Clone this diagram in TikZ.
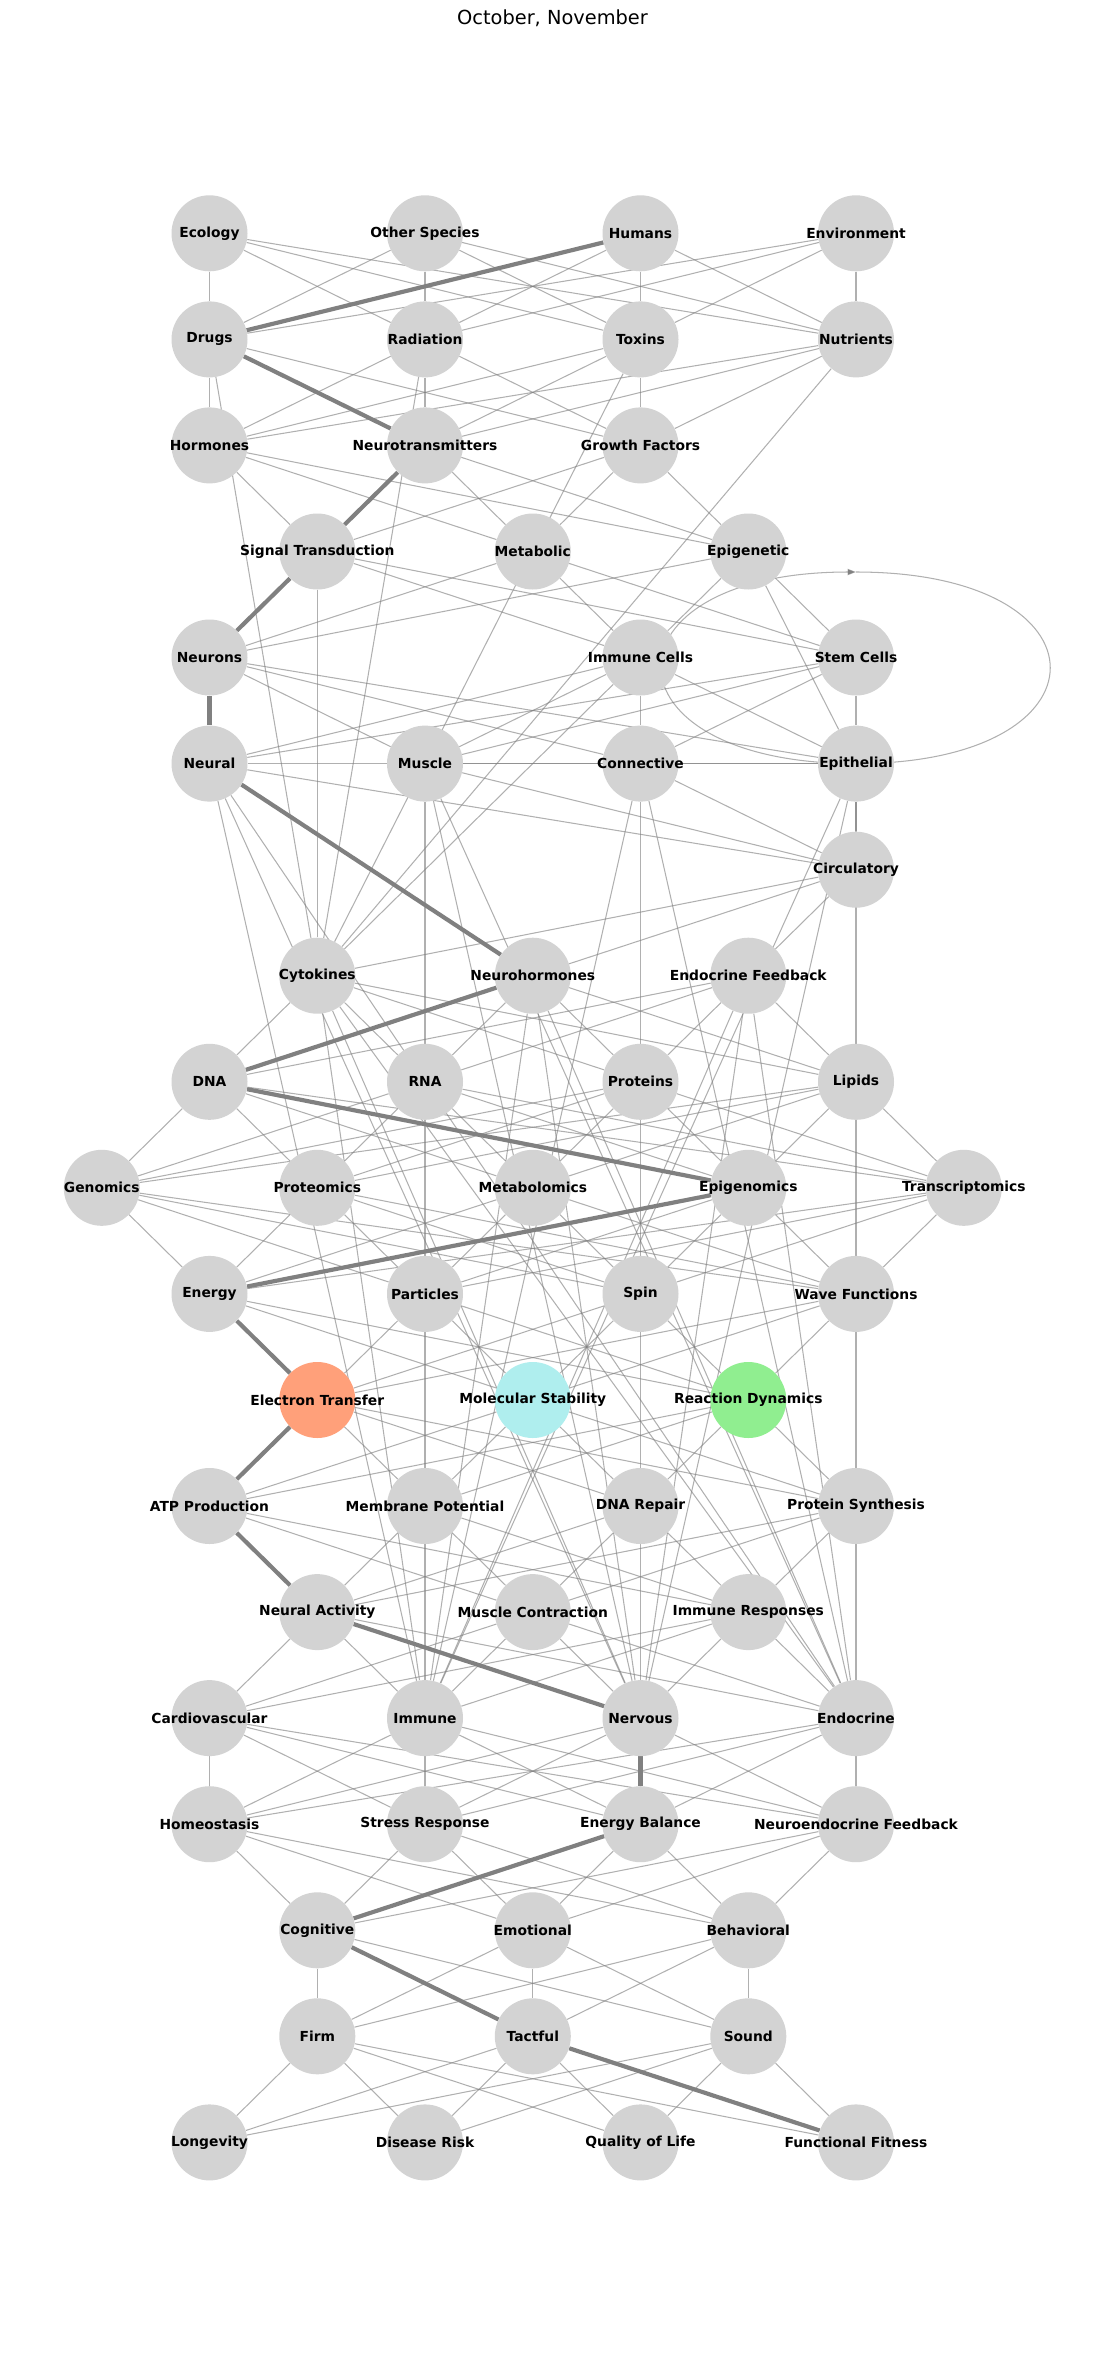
\documentclass[tikz,border=0pt]{standalone}
\usepackage{fontspec}
\setmainfont{DejaVu Sans}
\usetikzlibrary{arrows.meta}
\pgfdeclarelayer{canvas}
\pgfdeclarelayer{edgelayer}
\pgfsetlayers{canvas,edgelayer,main}
\definecolor{nodegray}{HTML}{D3D3D3}
\definecolor{salmonfill}{HTML}{FFA07A}
\definecolor{turqfill}{HTML}{AFEEEE}
\definecolor{greenfill}{HTML}{90EE90}
\definecolor{edgegray}{HTML}{808080}

\begin{document}
\begin{tikzpicture}[x=0.72bp, y=-0.72bp,
  nd/.style={circle, fill=nodegray, minimum size=54.72bp, inner sep=0pt},
  lbl/.style={font=\fontsize{10}{12}\selectfont\bfseries, inner sep=0pt},
  lnk/.style={draw=edgegray, draw opacity=0.62, line width=0.75bp},
  hot/.style={draw=edgegray, line width=3bp}]
  \useasboundingbox (0,0) rectangle (1105,2353);
  \begin{pgfonlayer}{canvas}
    \fill[white] (0,0) rectangle (1105,2353);
  \end{pgfonlayer}
  \node[font=\fontsize{14}{17}\selectfont] (ttl) at (552.5,18) {October, November};
  % environment and exposures
  \node[nd, label={[lbl]center:Ecology}] (eco) at (209.5,233.3) {};
  \node[nd, label={[lbl]center:Other Species}] (oth) at (425.0,233.3) {};
  \node[nd, label={[lbl]center:Humans}] (hum) at (640.5,233.3) {};
  \node[nd, label={[lbl]center:Environment}] (env) at (856.0,233.3) {};
  \node[nd, label={[lbl]center:Drugs}] (drg) at (209.5,339.4) {};
  \node[nd, label={[lbl]center:Radiation}] (rad) at (425.0,339.4) {};
  \node[nd, label={[lbl]center:Toxins}] (tox) at (640.5,339.4) {};
  \node[nd, label={[lbl]center:Nutrients}] (nut) at (856.0,339.4) {};
  \node[nd, label={[lbl]center:Hormones}] (hor) at (209.5,445.4) {};
  \node[nd, label={[lbl]center:Neurotransmitters}] (ntr) at (425.0,445.4) {};
  \node[nd, label={[lbl]center:Growth Factors}] (gro) at (640.5,445.4) {};
  \node[nd, label={[lbl]center:Signal Transduction}] (sig) at (317.3,551.5) {};
  \node[nd, label={[lbl]center:Metabolic}] (met) at (532.8,551.5) {};
  \node[nd, label={[lbl]center:Epigenetic}] (epg) at (748.3,551.5) {};
  % cells and tissues
  \node[nd, label={[lbl]center:Neurons}] (neu) at (209.5,657.5) {};
  \node[nd, label={[lbl]center:Immune Cells}] (imc) at (640.5,657.5) {};
  \node[nd, label={[lbl]center:Stem Cells}] (stc) at (856.0,657.5) {};
  \node[nd, label={[lbl]center:Neural}] (nrl) at (209.5,763.6) {};
  \node[nd, label={[lbl]center:Muscle}] (mus) at (425.0,763.6) {};
  \node[nd, label={[lbl]center:Connective}] (con) at (640.5,763.6) {};
  \node[nd, label={[lbl]center:Epithelial}] (epi) at (856.0,763.6) {};
  \node[nd, label={[lbl]center:Circulatory}] (cir) at (856.0,869.7) {};
  \node[nd, label={[lbl]center:Cytokines}] (cyt) at (317.3,975.7) {};
  \node[nd, label={[lbl]center:Neurohormones}] (nho) at (532.8,975.7) {};
  \node[nd, label={[lbl]center:Endocrine Feedback}] (efb) at (748.3,975.7) {};
  % molecules and omics
  \node[nd, label={[lbl]center:DNA}] (dna) at (209.5,1081.8) {};
  \node[nd, label={[lbl]center:RNA}] (rna) at (425.0,1081.8) {};
  \node[nd, label={[lbl]center:Proteins}] (pro) at (640.5,1081.8) {};
  \node[nd, label={[lbl]center:Lipids}] (lip) at (856.0,1081.8) {};
  \node[nd, label={[lbl]center:Genomics}] (gen) at (101.8,1187.8) {};
  \node[nd, label={[lbl]center:Proteomics}] (prt) at (317.3,1187.8) {};
  \node[nd, label={[lbl]center:Metabolomics}] (mtb) at (532.8,1187.8) {};
  \node[nd, label={[lbl]center:Epigenomics}] (egm) at (748.3,1187.8) {};
  \node[nd, label={[lbl]center:Transcriptomics}] (trn) at (963.8,1187.8) {};
  \node[nd, label={[lbl]center:Energy}] (ene) at (209.5,1293.9) {};
  \node[nd, label={[lbl]center:Particles}] (ptc) at (425.0,1293.9) {};
  \node[nd, label={[lbl]center:Spin}] (spn) at (640.5,1293.9) {};
  \node[nd, label={[lbl]center:Wave Functions}] (wav) at (856.0,1293.9) {};
  \node[nd, fill=salmonfill, label={[lbl]center:Electron Transfer}] (etr) at (317.3,1400.0) {};
  \node[nd, fill=turqfill, label={[lbl]center:Molecular Stability}] (mst) at (532.8,1400.0) {};
  \node[nd, fill=greenfill, label={[lbl]center:Reaction Dynamics}] (rdy) at (748.3,1400.0) {};
  % processes and systems
  \node[nd, label={[lbl]center:ATP Production}] (atp) at (209.5,1506.0) {};
  \node[nd, label={[lbl]center:Membrane Potential}] (mpo) at (425.0,1506.0) {};
  \node[nd, label={[lbl]center:DNA Repair}] (dnr) at (640.5,1506.0) {};
  \node[nd, label={[lbl]center:Protein Synthesis}] (psy) at (856.0,1506.0) {};
  \node[nd, label={[lbl]center:Neural Activity}] (nac) at (317.3,1612.1) {};
  \node[nd, label={[lbl]center:Muscle Contraction}] (mco) at (532.8,1612.1) {};
  \node[nd, label={[lbl]center:Immune Responses}] (irs) at (748.3,1612.1) {};
  \node[nd, label={[lbl]center:Cardiovascular}] (car) at (209.5,1718.1) {};
  \node[nd, label={[lbl]center:Immune}] (imm) at (425.0,1718.1) {};
  \node[nd, label={[lbl]center:Nervous}] (ner) at (640.5,1718.1) {};
  \node[nd, label={[lbl]center:Endocrine}] (edc) at (856.0,1718.1) {};
  \node[nd, label={[lbl]center:Homeostasis}] (hom) at (209.5,1824.2) {};
  \node[nd, label={[lbl]center:Stress Response}] (str) at (425.0,1824.2) {};
  \node[nd, label={[lbl]center:Energy Balance}] (eba) at (640.5,1824.2) {};
  \node[nd, label={[lbl]center:Neuroendocrine Feedback}] (nef) at (856.0,1824.2) {};
  % outcomes
  \node[nd, label={[lbl]center:Cognitive}] (cog) at (317.3,1930.3) {};
  \node[nd, label={[lbl]center:Emotional}] (emo) at (532.8,1930.3) {};
  \node[nd, label={[lbl]center:Behavioral}] (beh) at (748.3,1930.3) {};
  \node[nd, label={[lbl]center:Firm}] (frm) at (317.3,2036.3) {};
  \node[nd, label={[lbl]center:Tactful}] (tac) at (532.8,2036.3) {};
  \node[nd, label={[lbl]center:Sound}] (snd) at (748.3,2036.3) {};
  \node[nd, label={[lbl]center:Longevity}] (lon) at (209.5,2142.4) {};
  \node[nd, label={[lbl]center:Disease Risk}] (dis) at (425.0,2142.4) {};
  \node[nd, label={[lbl]center:Quality of Life}] (qol) at (640.5,2142.4) {};
  \node[nd, label={[lbl]center:Functional Fitness}] (fit) at (856.0,2142.4) {};
  \coordinate (looptop) at (856.0,572.0);

  \begin{pgfonlayer}{edgelayer}
    % layer to layer
    \foreach \a in {eco,oth,hum,env} \foreach \b in {drg,rad,tox,nut} \draw[lnk] (\a) -- (\b);
    \foreach \a in {drg,rad,tox,nut} \foreach \b in {hor,ntr,gro} \draw[lnk] (\a) -- (\b);
    \foreach \a in {hor,ntr,gro} \foreach \b in {sig,met,epg} \draw[lnk] (\a) -- (\b);
    \foreach \a in {sig,met,epg} \foreach \b in {neu,imc,stc} \draw[lnk] (\a) -- (\b);
    \foreach \a in {neu,imc,stc} \foreach \b in {nrl,mus,con,epi} \draw[lnk] (\a) -- (\b);
    \foreach \a in {nrl,mus,con,epi} \draw[lnk] (\a) -- (cir);
    \foreach \b in {cyt,nho,efb} \draw[lnk] (cir) -- (\b);
    \foreach \a in {cyt,nho,efb} \foreach \b in {dna,rna,pro,lip} \draw[lnk] (\a) -- (\b);
    \foreach \a in {dna,rna,pro,lip} \foreach \b in {gen,prt,mtb,egm,trn} \draw[lnk] (\a) -- (\b);
    \foreach \a in {gen,prt,mtb,egm,trn} \foreach \b in {ene,ptc,spn,wav} \draw[lnk] (\a) -- (\b);
    \foreach \a in {ene,ptc,spn,wav} \foreach \b in {etr,mst,rdy} \draw[lnk] (\a) -- (\b);
    \foreach \a in {etr,mst,rdy} \foreach \b in {atp,mpo,dnr,psy} \draw[lnk] (\a) -- (\b);
    \foreach \a in {atp,mpo,dnr,psy} \foreach \b in {nac,mco,irs} \draw[lnk] (\a) -- (\b);
    \foreach \a in {nac,mco,irs} \foreach \b in {car,imm,ner,edc} \draw[lnk] (\a) -- (\b);
    \foreach \a in {car,imm,ner,edc} \foreach \b in {hom,str,eba,nef} \draw[lnk] (\a) -- (\b);
    \foreach \a in {hom,str,eba,nef} \foreach \b in {cog,emo,beh} \draw[lnk] (\a) -- (\b);
    \foreach \a in {cog,emo,beh} \foreach \b in {frm,tac,snd} \draw[lnk] (\a) -- (\b);
    \foreach \a in {frm,tac,snd} \foreach \b in {lon,dis,qol,fit} \draw[lnk] (\a) -- (\b);
    % long links
    \foreach \a in {nrl,mus,con,epi,cyt,nho,efb} \foreach \b in {imm,ner,edc} \draw[lnk] (\a) -- (\b);
    \foreach \a in {drg,rad,tox,nut,sig,imc} \draw[lnk] (\a) -- (cyt);
    \foreach \a/\b in {epg/epi,nrl/epi,mus/epi} \draw[lnk] (\a) -- (\b);
    % self loop
    \draw[lnk] (epi.center) .. controls +(259,0) and +(259,0) .. (looptop);
    \draw[lnk, -{Triangle[length=6bp, width=4.5bp]}] (epi.center) .. controls +(-259,0) and +(-259,0) .. (looptop);
    % highlighted path
    \foreach \a/\b in {hum/drg,drg/ntr,ntr/sig,sig/neu,neu/nrl,nrl/nho,nho/dna,dna/egm,egm/ene,ene/etr,etr/atp,atp/nac,nac/ner,ner/eba,eba/cog,cog/tac,tac/fit}
      \draw[hot] (\a) -- (\b);
  \end{pgfonlayer}
\end{tikzpicture}
\end{document}
